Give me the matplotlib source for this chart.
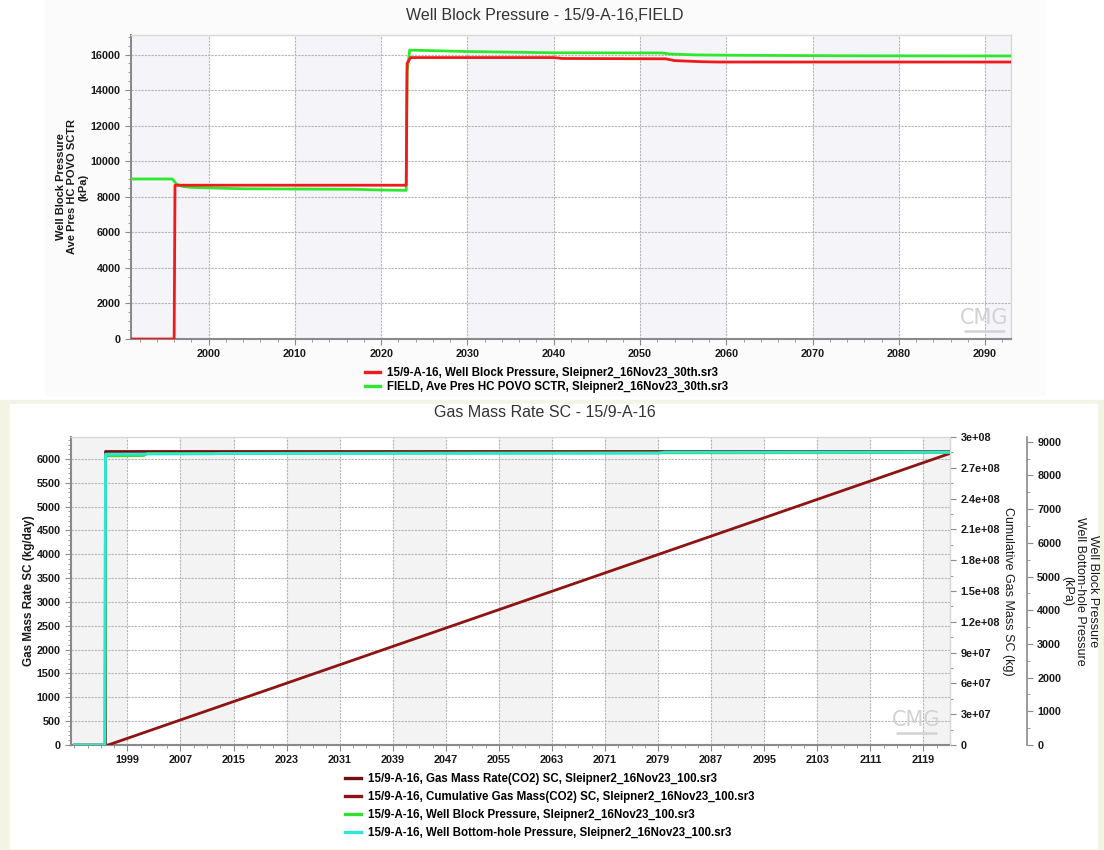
import matplotlib
matplotlib.use("Agg")
import matplotlib.pyplot as plt
from matplotlib.patches import Rectangle
from matplotlib.lines import Line2D
from matplotlib.ticker import MultipleLocator, FixedLocator, FuncFormatter

plt.rcParams['font.family'] = ['Liberation Sans', 'DejaVu Sans']

# ---- top chart: well block pressure vs field average pressure ----
well_years = [1991, 1996.0, 1996.1, 2022.9, 2023.0, 2023.4, 2040, 2041, 2053, 2054, 2057, 2059, 2093]
well_wbp = [0, 0, 8650, 8650, 15500, 15830, 15830, 15780, 15760, 15660, 15600, 15580, 15580]

field_years = [1991, 1995.8, 1996.3, 1997, 1998, 2000, 2004, 2017, 2020, 2022.9, 2023.0, 2023.3,
               2025, 2030, 2040, 2052.5, 2053.5, 2056.5, 2061, 2074, 2093]
field_pres = [9000, 9000, 8700, 8580, 8530, 8500, 8450, 8420, 8380, 8360, 15000, 16250,
              16230, 16170, 16100, 16090, 16030, 15980, 15960, 15930, 15920]

top_labels = ["15/9-A-16, Well Block Pressure, Sleipner2_16Nov23_30th.sr3",
              "FIELD, Ave Pres HC POVO SCTR, Sleipner2_16Nov23_30th.sr3"]

# ---- bottom chart: injection rate, cumulative mass, pressures ----
rate_years = [1991, 1995.7, 1995.7, 2123]
rate = [0, 0, 6170, 6170]

cum_years = [1991, 1996.1, 2123]
cum_mass = [0, 0, 2.84e8]

wbp_years = [1991, 1995.6, 1995.7, 2001.5, 2002, 2123]
wbp = [0, 0, 8580, 8590, 8650, 8680]

bhp_years = [1991, 1995.6, 1995.7, 2012, 2013, 2079, 2080, 2123]
bhp = [0, 0, 8630, 8640, 8655, 8660, 8690, 8695]

bottom_labels = ["15/9-A-16, Gas Mass Rate(CO2) SC, Sleipner2_16Nov23_100.sr3",
                 "15/9-A-16, Cumulative Gas Mass(CO2) SC, Sleipner2_16Nov23_100.sr3",
                 "15/9-A-16, Well Block Pressure, Sleipner2_16Nov23_100.sr3",
                 "15/9-A-16, Well Bottom-hole Pressure, Sleipner2_16Nov23_100.sr3"]

W, H = 1104, 850
fig = plt.figure(figsize=(W / 100, H / 100), dpi=100)
fig.patch.set_facecolor('white')


def px_rect(x0, y0, x1, y1):
    # pixel box (top-left origin) -> figure fraction rect
    return [x0 / W, (H - y1) / H, (x1 - x0) / W, (y1 - y0) / H]


# panel backgrounds
fig.patches.append(Rectangle((45 / W, (H - 395) / H), 1000 / W, 395 / H,
                             transform=fig.transFigure, color='#fbfbfb', zorder=-10))
fig.patches.append(Rectangle((0, 0), 1, (H - 400) / H,
                             transform=fig.transFigure, color='#f4f4e4', zorder=-10))
fig.patches.append(Rectangle((10 / W, 2 / H), 1087 / W, (H - 404 - 2) / H,
                             transform=fig.transFigure, color='white', zorder=-9))

FS = 7.8      # tick labels
LFS = 8.3     # legends
AFS = 8.0     # bold axis labels
TFS = 11.5    # titles
INK = '#1a1a1a'
grid_kw = dict(color='#b5b5b5', linestyle=(0, (2, 1)), linewidth=0.8)


def style_ticks(ax):
    ax.tick_params(which='both', direction='out', color='#8a8a8a', labelsize=FS,
                   labelcolor=INK)
    ax.tick_params(which='major', length=4)
    ax.tick_params(which='minor', length=2.5)
    for lab in ax.get_xticklabels() + ax.get_yticklabels():
        lab.set_fontweight('bold')


def style_axes(ax, band_edges, band_color):
    for x0, x1 in band_edges:
        ax.axvspan(x0, x1, color=band_color, zorder=0, lw=0)
    ax.grid(True, which='major', **grid_kw)
    ax.set_axisbelow(True)
    for s in ('left', 'bottom'):
        ax.spines[s].set_color('#8a8a8a')
        ax.spines[s].set_linewidth(1.5)
    for s in ('top', 'right'):
        ax.spines[s].set_color('#d8d8d8')
        ax.spines[s].set_linewidth(1.0)
    style_ticks(ax)


def watermark(ax, x, y):
    ax.text(x, y, "CMG", transform=ax.transAxes, fontsize=15, color='#d2d2d2',
            ha='center', va='bottom', zorder=1, family='Liberation Sans Narrow')
    ax.plot([x - 0.022, x + 0.022], [y - 0.01, y - 0.01], transform=ax.transAxes,
            color='#d2d2d2', lw=1.8, zorder=1, solid_capstyle='round')


# ================= top chart =================
ax1 = fig.add_axes(px_rect(131, 35, 1011, 339))
ax1.set_xlim(1991, 2093)
ax1.set_ylim(0, 17100)
ax1.xaxis.set_major_locator(MultipleLocator(10))
ax1.xaxis.set_minor_locator(MultipleLocator(2))
ax1.yaxis.set_major_locator(MultipleLocator(2000))
ax1.yaxis.set_minor_locator(MultipleLocator(500))
style_axes(ax1, [(1991, 2000), (2010, 2020), (2030, 2040), (2050, 2060),
                 (2070, 2080), (2090, 2093)], '#f5f4f8')

ax1.plot(field_years, field_pres, color='#2ee82e', lw=2.0, zorder=3)
ax1.plot(well_years, well_wbp, color='#f01a1a', lw=2.0, zorder=4)
watermark(ax1, 0.97, 0.035)

ax1.set_ylabel("Well Block Pressure\nAve Pres HC POVO SCTR\n(kPa)", fontsize=AFS,
               fontweight='bold', color=INK, linespacing=1.15, va='center')
ax1.yaxis.set_label_coords(-0.067, 0.5)
fig.text(545 / W, 1 - 16 / H, "Well Block Pressure - 15/9-A-16,FIELD", fontsize=TFS,
         ha='center', va='center', color='#333333')

top_handles = [Line2D([], [], color='#f01a1a', lw=2.4),
               Line2D([], [], color='#2ee82e', lw=2.4)]
fig.legend(top_handles, top_labels, loc='upper left',
           bbox_to_anchor=(359 / W, 1 - 361 / H), frameon=False,
           prop=dict(size=LFS, weight='bold'), handlelength=1.35,
           handletextpad=0.6, labelspacing=0.22, borderpad=0)

# ================= bottom chart =================
ax2 = fig.add_axes(px_rect(71, 437, 950, 745))
ax2.set_xlim(1990.5, 2123)
ax2.set_ylim(0, 6460)
ax2.xaxis.set_major_locator(FixedLocator(list(range(1999, 2123, 8))))
ax2.xaxis.set_minor_locator(FixedLocator(list(range(1991, 2123, 2))))
ax2.yaxis.set_major_locator(MultipleLocator(500))
ax2.yaxis.set_minor_locator(MultipleLocator(100))
style_axes(ax2, [(1990.5, 1999), (2007, 2015), (2023, 2031), (2039, 2047), (2055, 2063),
                 (2071, 2079), (2087, 2095), (2103, 2111), (2119, 2123)], '#f3f3f3')
ax2.set_ylabel("Gas Mass Rate SC (kg/day)", fontsize=8.4, fontweight='bold',
               color=INK, va='center')
ax2.yaxis.set_label_coords(-0.048, 0.5)

# cumulative mass axis (first right axis)
ax3 = ax2.twinx()
ax3.set_ylim(0, 3.0e8)
ax3.yaxis.set_major_locator(MultipleLocator(3e7))
ax3.yaxis.set_minor_locator(MultipleLocator(1.5e7))
ax3.yaxis.set_major_formatter(FuncFormatter(lambda v, p: format(v, 'g')))
for s in ('left', 'top', 'bottom'):
    ax3.spines[s].set_visible(False)
ax3.spines['right'].set_color('#d8d8d8')
style_ticks(ax3)
ax3.set_ylabel("Cumulative Gas Mass SC (kg)", fontsize=9, color=INK,
               rotation=270, va='center', ha='center')
ax3.yaxis.set_label_coords(1.066, 0.5)

# pressure axis (second right axis)
ax4 = ax2.twinx()
ax4.set_ylim(0, 9140)
ax4.yaxis.set_major_locator(MultipleLocator(1000))
ax4.yaxis.set_minor_locator(MultipleLocator(500))
for s in ('left', 'top', 'bottom'):
    ax4.spines[s].set_visible(False)
ax4.spines['right'].set_position(('axes', 1.0873))
ax4.spines['right'].set_color('#8a8a8a')
ax4.spines['right'].set_linewidth(1.2)
style_ticks(ax4)
ax4.set_ylabel("Well Block Pressure\nWell Bottom-hole Pressure\n(kPa)", fontsize=9,
               color=INK, rotation=270, va='center', ha='center', linespacing=1.1)
ax4.yaxis.set_label_coords(1.148, 0.5)

rate_c, cum_c, wbp_c, bhp_c = '#701010', '#8e1414', '#35dd35', '#2ee6d6'
ax2.plot(rate_years, rate, color=rate_c, lw=2.0, zorder=3)
ax3.plot(cum_years, cum_mass, color=cum_c, lw=2.0, zorder=3)
ax4.plot(wbp_years, wbp, color=wbp_c, lw=2.0, zorder=3)
ax4.plot(bhp_years, bhp, color=bhp_c, lw=2.0, zorder=4)
watermark(ax4, 0.962, 0.05)

fig.text(545 / W, 1 - 413 / H, "Gas Mass Rate SC - 15/9-A-16", fontsize=TFS,
         ha='center', va='center', color='#333333')

bottom_handles = [Line2D([], [], color=c, lw=2.4) for c in (rate_c, cum_c, wbp_c, bhp_c)]
fig.legend(bottom_handles, bottom_labels, loc='upper left',
           bbox_to_anchor=(339 / W, 1 - 767 / H), frameon=False,
           prop=dict(size=LFS, weight='bold'), handlelength=1.45,
           handletextpad=0.6, labelspacing=0.53, borderpad=0)

fig.savefig("out.png", dpi=100)
